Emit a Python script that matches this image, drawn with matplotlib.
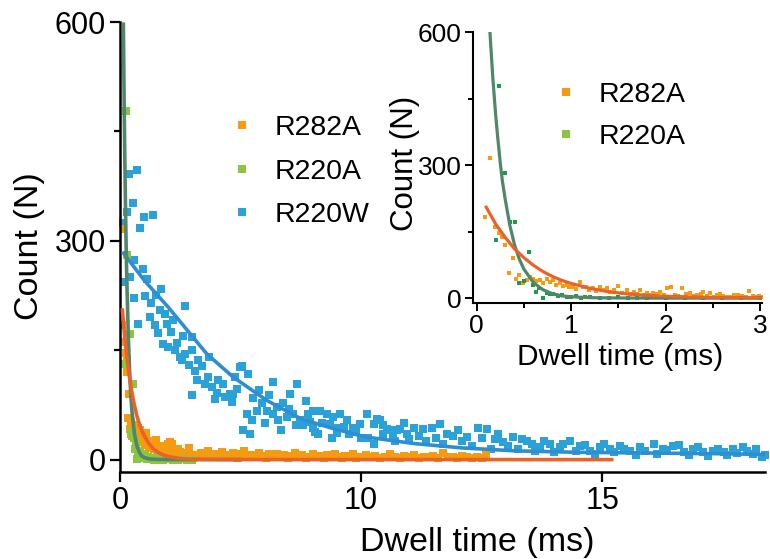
import numpy as np
import matplotlib
matplotlib.use("Agg")
import matplotlib.pyplot as plt
from matplotlib.lines import Line2D

plt.rcParams['font.family'] = ['Liberation Sans', 'DejaVu Sans']

# R282A points (dwell time ms, count)
r282a_x = [0.09, 0.14, 0.19, 0.23, 0.27, 0.30, 0.34, 0.38, 0.42, 0.45, 0.49, 0.53, 0.56, 0.60, 0.63,
           0.67, 0.70, 0.74, 0.77, 0.81, 0.84, 0.88, 0.91, 0.95, 0.98, 1.02, 1.05, 1.09, 1.12, 1.16,
           1.19, 1.23, 1.26, 1.30, 1.34, 1.38, 1.41, 1.45, 1.50, 1.54, 1.59, 1.62, 1.66, 1.70, 1.73,
           1.77, 1.80, 1.84, 1.87, 1.91, 1.94, 1.98, 2.01, 2.06, 2.10, 2.13, 2.17, 2.21, 2.26, 2.30,
           2.33, 2.37, 2.40, 2.44, 2.47, 2.51, 2.54, 2.58, 2.61, 2.65, 2.68, 2.72, 2.77, 2.81, 2.85,
           2.88, 2.92, 2.95, 2.99, 3.02,
           3.2, 3.35, 3.5, 3.65, 3.8, 3.95, 4.1, 4.25, 4.4, 4.55, 4.7, 4.85, 5.0, 5.15, 5.3, 5.45,
           5.6, 5.75, 5.9, 6.05, 6.2, 6.35, 6.5, 6.65, 6.8, 6.95, 7.1, 7.25, 7.4, 7.55, 7.7, 7.85,
           8.0, 8.15, 8.3, 8.45, 8.6, 8.75, 8.9, 9.05, 9.2, 9.35, 9.5, 9.65, 9.8, 9.95, 10.1, 10.2,
           10.3, 10.4, 10.5, 10.6, 10.7, 10.8, 10.9, 11.0, 11.1, 11.2, 11.3, 11.4, 11.5, 11.6, 11.7,
           11.8, 11.9, 12.0, 12.1, 12.2, 12.3, 12.4, 12.5, 12.6]
r282a_y = [184, 316, 161, 146, 138, 120, 57, 90, 42, 52, 33, 41, 47, 44, 38,
           41, 35, 44, 36, 41, 30, 33, 27, 29, 24, 26, 20, 37, 24, 26,
           18, 22, 16, 26, 19, 22, 14, 18, 27, 12, 18, 10, 14, 9, 18,
           8, 12, 7, 11, 9, 14, 6, 22, 24, 8, 5, 22, 9, 11, 4,
           7, 10, 14, 5, 11, 3, 7, 9, 5, 2, 3, 6, 7, 4, 2,
           16, 5, 3, 4, 2,
           6, 9, 4, 12, 5, 8, 3, 10, 6, 4, 9, 2, 7, 12, 4, 6,
           3, 9, 5, 2, 7, 4, 8, 3, 6, 2, 5, 9, 3, 6, 2, 4,
           7, 3, 5, 2, 6, 3, 8, 4, 2, 5, 3, 7, 2, 4, 6, 3,
           5, 2, 4, 7, 3, 2, 5, 3, 6, 2, 4, 3, 5, 2, 9,
           3, 4, 2, 5, 3, 2, 4, 2, 7]

# R220A points
r220a_x = [0.20, 0.24, 0.30, 0.35, 0.40, 0.45, 0.50, 0.55, 0.59, 0.63, 0.66, 0.70, 0.74, 0.78,
           0.81, 0.86, 0.90, 0.95, 1.00, 1.05, 1.10, 1.15, 1.20, 1.30, 1.40, 1.50, 1.60, 1.70,
           1.80, 2.00, 2.20, 2.40, 2.60, 2.80, 3.00]
r220a_y = [131, 478, 281, 172, 172, 35, 38, 104, 29, 14, 22, 1, 12, 9,
           10, 4, 7, 3, 2, 5, 1, 3, 2, 1, 0, 2, 0, 1,
           0, 1, 0, 0, 1, 0, 0]

# R220W points
r220w_x = [0.14, 0.18, 0.28, 0.37, 0.41, 0.55, 0.59, 0.59, 0.69, 0.76, 0.83, 0.97, 1.01, 1.04,
           1.10, 1.24, 1.30, 1.38, 1.45, 1.50, 1.59, 1.65, 1.70, 1.80, 1.85, 1.94, 2.00, 2.10,
           2.21, 2.28, 2.35, 2.49, 2.56, 2.60, 2.70, 2.70, 2.85, 2.97, 2.97, 3.00, 3.11, 3.18,
           3.25, 3.40, 3.53, 3.66, 3.70, 3.80, 3.94, 4.01, 4.08, 4.29, 4.36, 4.56, 4.63, 4.70,
           4.77, 4.84, 4.98, 5.05, 5.12, 5.26, 5.32, 5.39, 5.46, 5.50, 5.67, 5.75, 5.88, 6.00,
           6.09, 6.20, 6.36, 6.36, 6.50, 6.57, 6.70, 6.78, 6.92, 7.00, 7.05, 7.19, 7.30, 7.33,
           7.47, 7.61, 7.70, 7.81, 7.90, 8.02, 8.02, 8.10, 8.23, 8.30, 8.40, 8.58, 8.71, 8.80,
           8.85, 8.99, 9.00, 9.13, 9.30, 9.41, 9.50, 9.68, 9.80, 9.96, 10.00,
           10.12, 10.15, 10.26, 10.26, 10.33, 10.39, 10.45, 10.46, 10.53, 10.60, 10.67, 10.70,
           10.74, 10.81, 10.90, 10.95, 11.00, 11.09, 11.20, 11.29, 11.35, 11.47, 11.55, 11.64,
           11.70, 11.78, 11.90, 12.02, 12.10, 12.19, 12.30, 12.43, 12.50, 12.61, 12.70, 12.78,
           12.85, 12.95, 13.05, 13.16, 13.25, 13.33, 13.45, 13.54, 13.60, 13.71, 13.80, 13.92,
           14.00, 14.13, 14.20, 14.34, 14.45, 14.54, 14.65, 14.75, 14.85, 14.96, 15.05, 15.17,
           15.25, 15.37, 15.45, 15.58, 15.70, 15.79, 15.90, 16.07, 16.15, 16.27, 16.35, 16.48,
           16.60, 16.69, 16.80, 16.89, 17.00, 17.10, 17.20, 17.31, 17.40, 17.52, 17.60, 17.72,
           17.80, 17.93, 18.00, 18.14, 18.20, 18.31, 18.38]
r220w_y = [324, 244, 340, 391, 250, 352, 273, 221, 397, 186, 318, 262, 333, 224,
           248, 195, 215, 336, 184, 226, 173, 205, 234, 159, 200, 186, 154, 175,
           191, 150, 160, 141, 136, 170, 210, 145, 130, 168, 88, 150, 122, 109,
           136, 128, 104, 113, 140, 99, 83, 92, 109, 104, 86, 90, 79, 90,
           113, 97, 127, 129, 40, 63, 118, 35, 54, 85, 67, 95, 77, 50,
           67, 88, 106, 63, 72, 54, 40, 77, 58, 70, 90, 63, 48, 104,
           54, 47, 80, 63, 52, 44, 67, 38, 35, 67, 50, 63, 49, 30,
           58, 44, 36, 63, 45, 54, 35, 44, 38, 49, 30,
           63, 30, 49, 22, 56, 54, 48, 35, 42, 40, 31, 25,
           40, 42, 50, 35, 28, 44, 33, 42, 25, 44, 30, 49,
           22, 35, 33, 40, 26, 31, 18, 44, 30, 42, 15, 28,
           35, 24, 18, 31, 14, 28, 25, 22, 12, 17, 26, 22,
           10, 17, 22, 26, 12, 19, 20, 12, 8, 17, 22, 15,
           10, 19, 14, 12, 6, 17, 12, 22, 8, 15, 13, 19,
           20, 10, 6, 15, 17, 10, 5, 12, 14, 10, 6, 15,
           9, 17, 12, 8, 14, 3, 6]

# fitted curves
fit282_x = [0.10, 0.2, 0.3, 0.4, 0.5, 0.6, 0.7, 0.8, 0.9, 1.0, 1.2, 1.4, 1.6, 1.8, 2.0, 2.5, 3.0,
            4.0, 6.0, 10.0, 15.2]
fit282_y = [205, 167, 137, 111, 91, 74, 60, 49, 40, 33, 22, 14, 9.5, 6.3, 4.2, 1.5, 0.5,
            0.1, 0, 0, 0]
fit220a_x = [0.14, 0.17, 0.20, 0.22, 0.25, 0.27, 0.30, 0.35, 0.40, 0.45, 0.50, 0.60, 0.70, 0.80,
             0.90, 1.0, 1.2, 1.5, 2.0, 3.0, 5.0]
fit220a_y = [597, 496, 413, 366, 302, 266, 224, 164, 120, 88, 65, 35, 19, 10,
             5, 3, 1, 0.3, 0, 0, 0]
fit220w_x = [0.15, 1.0, 2.0, 2.8, 3.6, 4.7, 6.1, 7.5, 8.9, 10.1, 11.1, 12.1, 13.2, 14.5, 16.0,
             17.5, 18.4]
fit220w_y = [283, 246, 209, 177, 145, 113, 81, 56, 42, 31, 22, 16, 12, 10, 9, 8, 7]

c_orange = '#F59B0F'
c_green = '#8CC541'
c_green_dark = '#1E9A4C'
c_blue = '#2BA1D9'
c_fit_orange = '#E8622A'
c_fit_green = '#508768'
c_fit_blue = '#2E8ECF'


def fwd(x):
    x = np.asarray(x, dtype=float)
    return np.where(x <= 10, x, 10 + 2 * (x - 10))


def inv(y):
    y = np.asarray(y, dtype=float)
    return np.where(y <= 10, y, 10 + (y - 10) / 2)


fig = plt.figure(figsize=(7.7, 5.59), dpi=100)

# main panel
ax = fig.add_axes([120 / 770, 1 - 472 / 559, 645 / 770, 450 / 559])
ax.set_xscale('function', functions=(fwd, inv))
ax.plot(r220w_x, r220w_y, 's', color=c_blue, ms=5.4, mew=0, clip_on=False, zorder=2)
ax.plot(r282a_x, r282a_y, 's', color=c_orange, ms=5.4, mew=0, zorder=2)
ax.plot(r220a_x, r220a_y, 's', color=c_green, ms=5.4, mew=0, zorder=2)
ax.plot(fit220w_x, fit220w_y, '-', color=c_fit_blue, lw=2.6, zorder=3)
ax.plot(fit220a_x, fit220a_y, '-', color=c_fit_green, lw=2.6, zorder=4)
ax.plot(fit282_x, fit282_y, '-', color=c_fit_orange, lw=2.6, zorder=5)
ax.set_xlim(0, 18.38)
ax.set_ylim(-17, 600)
ax.set_xticks([0, 10, 15])
ax.set_xticks([], minor=True)
ax.set_yticks([0, 300, 600])
ax.set_yticks([150, 450], minor=True)
ax.tick_params(axis='both', which='major', labelsize=22, width=1.6, length=7, pad=3)
ax.tick_params(axis='both', which='minor', width=1.6, length=4)
for s in ['top', 'right']:
    ax.spines[s].set_visible(False)
for s in ['left', 'bottom']:
    ax.spines[s].set_linewidth(1.8)

fig.text(477 / 770, 1 - 543 / 559, 'Dwell time (ms)', fontsize=24.5, ha='center', va='center')
fig.text(30 / 770, 1 - 246 / 559, 'Count (N)', fontsize=24.5, ha='center', va='center',
         rotation=90)

handles = [Line2D([], [], ls='none', marker='s', ms=6, mew=0, color=c)
           for c in (c_orange, c_green, c_blue)]
ax.legend(handles, ['R282A', 'R220A', 'R220W'], loc='upper left',
          bbox_to_anchor=(233 / 770, 1 - 115 / 559), bbox_transform=fig.transFigure,
          frameon=False, fontsize=20.5, handlelength=0.6, handletextpad=0.85,
          labelspacing=0.62, borderpad=0, borderaxespad=0)

# inset panel
ins = fig.add_axes([473 / 770, 1 - 303 / 559, 289 / 770, 271 / 559])
ins.plot(r282a_x, r282a_y, 's', color=c_orange, ms=3.4, mew=0)
ins.plot(r220a_x, r220a_y, 's', color=c_green_dark, ms=3.4, mew=0)
ins.plot(fit220a_x, fit220a_y, '-', color=c_fit_green, lw=2.3)
ins.plot(fit282_x, fit282_y, '-', color=c_fit_orange, lw=2.3)
ins.set_xlim(-0.04, 3.02)
ins.set_ylim(-11, 600)
ins.set_xticks([0, 1, 2, 3])
ins.set_xticks([0.5, 1.5, 2.5], minor=True)
ins.set_yticks([0, 300, 600])
ins.set_yticks([150, 450], minor=True)
ins.tick_params(axis='both', which='major', labelsize=19, width=1.4, length=6, pad=2)
ins.tick_params(axis='both', which='minor', width=1.4, length=3.5)
for s in ['top', 'right']:
    ins.spines[s].set_visible(False)
for s in ['left', 'bottom']:
    ins.spines[s].set_linewidth(1.5)
fig.text(620 / 770, 1 - 357 / 559, 'Dwell time (ms)', fontsize=21.5, ha='center', va='center')
fig.text(405 / 770, 1 - 163 / 559, 'Count (N)', fontsize=22.5, ha='center', va='center',
         rotation=90)

handles2 = [Line2D([], [], ls='none', marker='s', ms=6, mew=0, color=c)
            for c in (c_orange, c_green)]
ins.legend(handles2, ['R282A', 'R220A'], loc='upper left',
           bbox_to_anchor=(557 / 770, 1 - 82 / 559), bbox_transform=fig.transFigure,
           frameon=False, fontsize=20.5, handlelength=0.6, handletextpad=0.85,
           labelspacing=0.55, borderpad=0, borderaxespad=0)

fig.savefig('out.png', dpi=100)
